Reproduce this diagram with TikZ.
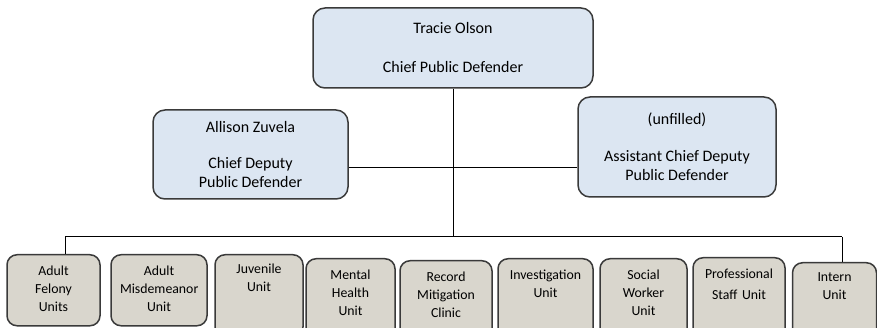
\documentclass[tikz,border=0pt]{standalone}
\usepackage{fontspec}
\setmainfont{Carlito}
\usetikzlibrary{arrows,shapes}
\definecolor{bossblue}{HTML}{DCE6F2}
\definecolor{unitgray}{HTML}{D9D6CD}
\definecolor{bordergray}{HTML}{3A3A3A}

\begin{document}
\begin{tikzpicture}[x=1pt,y=-1pt]
      \tikzstyle{boss}=[rectangle,rounded corners=12pt,line width=1.5pt,draw=bordergray,fill=bossblue,align=center,inner sep=0pt,font=\fontsize{16}{19}\selectfont]
      \tikzstyle{unit}=[rectangle,rounded corners=10pt,line width=1.5pt,draw=bordergray,fill=unitgray,anchor=north,text width=78pt,align=center,inner sep=3pt,text height=18pt,text depth=60pt,font=\fontsize{13.8}{18}\selectfont]
      \tikzstyle{link}=[line width=1pt,draw=black]

      \useasboundingbox (0,0) rectangle (877,328);

      \node[boss,minimum width=280pt,minimum height=80pt](chief) at (453,48){Tracie Olson\\[20pt]Chief Public Defender};
      \node[boss,minimum width=195pt,minimum height=89pt](deputy) at (250.5,154.5){Allison Zuvela\\[17pt]Chief Deputy\\Public Defender};
      \node[boss,minimum width=198pt,minimum height=100pt](assistant) at (677,147){(unfilled)\\[18pt]Assistant Chief Deputy\\Public Defender};

      \node[unit,minimum width=93pt,text depth=47pt](felony) at (53.5,254){Adult\\Felony\\Units};
      \node[unit,minimum width=96pt,text depth=47pt](misdemeanor) at (159,254){Adult\\Misdemeanor\\Unit};
      \node[unit,minimum width=88pt,text height=16pt](juvenile) at (259,254){Juvenile\\Unit};
      \node[unit,minimum width=89pt](mental) at (350.5,258){Mental\\Health\\Unit};
      \node[unit,minimum width=92pt](record) at (446,260){Record\\Mitigation\\Clinic};
      \node[unit,minimum width=95pt](investigation) at (545.5,258){Investigation\\Unit};
      \node[unit,minimum width=87pt](social) at (643.5,258){Social\\Worker\\Unit};
      \node[unit,minimum width=92pt](staff) at (739,257){Professional\\[3pt]Staff Unit};
      \node[unit,minimum width=83pt,text height=16pt](intern) at (834.5,262){Intern\\Unit};

      \coordinate (cross) at (453,168);
      \coordinate (busleft) at (65,237);
      \coordinate (busright) at (842,237);

      \path[link]
      (chief.south) edge (chief.south |- busleft)
      (deputy.east |- cross) edge (assistant.west |- cross)
      (busleft) edge (busright)
      (busleft) edge (busleft |- felony.north)
      (busright) edge (busright |- intern.north);
    \end{tikzpicture}
\end{document}
